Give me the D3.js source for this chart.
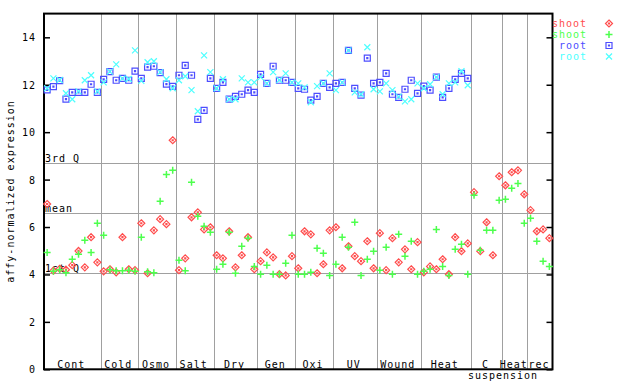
<!DOCTYPE html>
<html>
<head>
<meta charset="utf-8">
<script src="https://cdn.jsdelivr.net/npm/d3@7"></script>
<style>
  body { margin: 0; background: #fff; }
  text { font-family: "DejaVu Sans Mono", monospace; font-size: 10px; letter-spacing: 1px; }
</style>
</head>
<body>
<svg class="chart"></svg>
<script>
// categories and how many samples sit in each one
var categories = ["Cont", "Cold", "Osmo", "Salt", "Dry", "Gen", "Oxi", "UV", "Wound", "Heat", "C", "Heat", "rec"];
var counts = [9, 6, 6, 6, 7, 6, 6, 7, 7, 8, 5, 4, 4];

var shoot1 = [6.97, 4.16, 4.24, 4.2, 4.39, 4.99, 4.30, 5.57, 4.51,
  4.13, 4.22, 4.09, 5.57, 4.22, 4.18,
  6.16, 4.05, 5.86, 6.33, 6.12, 9.66,
  4.18, 4.68, 6.41, 6.62, 5.9, 5.99,
  4.81, 4.68, 5.82, 4.30, 4.81, 5.57, 4.22,
  4.56, 4.93, 4.72, 4.01, 3.96, 4.77,
  4.26, 5.82, 5.69, 4.05, 4.43, 5.86,
  5.99, 4.26, 5.19, 4.77, 4.56, 5.4, 4.26,
  5.74, 4.18, 5.53, 4.51, 5.06, 4.22, 5.36,
  4.09, 4.34, 4.22, 4.64, 4.01, 5.57, 4.98, 5.31,
  7.47, 4.98, 6.2, 4.81, 8.14,
  7.76, 8.31, 8.39, 7.38,
  6.71, 5.82, 5.9, 5.53];

var shoot2 = [4.93, 4.14, 4.2, 4.07, 4.64, 4.85, 5.44, 4.93, 6.16,
  5.65, 4.2, 4.16, 4.16, 4.18, 4.14,
  5.57, 4.11, 4.07, 7.09, 8.22, 8.39,
  4.6, 4.16, 7.89, 6.45, 6.03, 5.78,
  4.22, 4.43, 5.78, 4.05, 5.19, 5.53, 4.34,
  4.01, 4.39, 4.01, 4.01, 4.47, 5.65,
  4.01, 4.01, 4.09, 5.1, 4.89, 3.96,
  4.43, 5.57, 5.15, 6.2, 3.96, 4.64, 4.98,
  4.18, 5.15, 4.01, 5.69, 4.77, 5.4, 4.01,
  4.13, 4.22, 5.9, 4.34, 3.96, 5.06, 5.27, 4.01,
  7.34, 5.02, 5.86, 5.86, 7.13,
  7.17, 7.63, 7.84, 6.16,
  6.37, 5.4, 4.56, 4.34];

var root1 = [11.78, 11.92, 12.17, 11.39, 11.68, 11.68, 11.68, 12.02, 11.68,
  12.23, 12.55, 12.19, 12.27, 12.19, 12.57,
  12.27, 12.74, 12.78, 12.51, 12.03, 11.93,
  12.40, 12.82, 12.40, 10.54, 10.92, 12.27,
  11.85, 12.10, 11.39, 11.51, 11.60, 11.77, 11.68,
  12.44, 12.06, 12.78, 12.19, 12.19, 12.10,
  11.85, 11.81, 11.35, 11.51, 12.06, 11.89,
  12.06, 12.10, 13.45, 11.85, 11.56, 13.12, 12.06,
  12.10, 12.48, 11.60, 11.47, 11.81, 12.19, 11.64,
  11.94, 11.77, 12.32, 11.47, 11.85, 12.23, 12.48, 12.27];

var root2 = [11.85, 12.27, 12.2, 11.64, 11.39, 11.72, 12.19, 12.40, 11.72,
  12.10, 12.55, 12.86, 12.27, 12.24, 13.45,
  12.16, 12.95, 12.99, 12.53, 12.23, 11.85,
  12.19, 12.36, 11.77, 10.88, 13.24, 12.53,
  11.85, 12.23, 11.39, 11.39, 12.27, 12.10, 12.10,
  12.32, 12.06, 12.53, 12.2, 12.48, 12.10,
  12.06, 11.89, 11.26, 11.94, 12.06, 12.48,
  11.77, 12.10, 13.45, 11.68, 11.6, 13.58, 11.81,
  11.72, 12.06, 11.77, 11.5, 11.30, 11.39, 12.06,
  11.85, 12.02, 12.32, 11.60, 12.06, 12.10, 12.57, 11.98];

var seriesNames = ["shoot", "shoot", "root", "root"];
var seriesColors = ["#ff4d4d", "#4dff4d", "#4d4dff", "#4dffff"];
var seriesShapes = ["diamond", "plus", "square", "cross"];

var refLabels = ["3rd Q", "mean", "1st Q"];
var refValues = [8.68, 6.61, 4.08];

var yTicks = [0, 2, 4, 6, 8, 10, 12, 14];

var width = 640,
    height = 384;

var total = d3.sum(counts);

var x = d3.scaleLinear()
    .domain([0, total])
    .range([44, 552.5]);

var y = d3.scaleLinear()
    .domain([0, 15])
    .range([369.3, 13.6]);

var chart = d3.select(".chart")
    .attr("width", width)
    .attr("height", height);

chart.append("rect")
  .attr("width", width)
  .attr("height", height)
  .attr("fill", "#fff");

// category boundaries
var bounds = d3.cumsum(counts);
var starts = [0].concat(Array.from(bounds).slice(0, -1));

chart.append("g").selectAll("line")
    .data(Array.from(bounds).slice(0, -1))
  .enter().append("line")
    .attr("x1", function(d) { return Math.round(x(d)) + 0.5; })
    .attr("x2", function(d) { return Math.round(x(d)) + 0.5; })
    .attr("y1", y(15))
    .attr("y2", y(0))
    .attr("stroke", "#a0a0a0")
    .attr("stroke-width", 1);

// quartile / mean lines
chart.append("g").selectAll("line")
    .data(refValues)
  .enter().append("line")
    .attr("x1", x(0))
    .attr("x2", x(total))
    .attr("y1", function(d) { return Math.round(y(d)) + 0.5; })
    .attr("y2", function(d) { return Math.round(y(d)) + 0.5; })
    .attr("stroke", "#a0a0a0")
    .attr("stroke-width", 1);

chart.append("g").selectAll("text")
    .data(refValues)
  .enter().append("text")
    .attr("x", x(0) + 1)
    .attr("y", function(d) { return Math.round(y(d)) - 1; })
    .text(function(d, i) { return refLabels[i]; });

// ticks on both sides
var yAxisL = d3.axisLeft(y).tickValues(yTicks).tickSizeInner(-6).tickSizeOuter(0).tickPadding(8);
var yAxisR = d3.axisRight(y).tickValues(yTicks).tickSizeInner(-6).tickSizeOuter(0).tickFormat("");

var gl = chart.append("g")
  .attr("transform", "translate(" + x(0) + ",0)")
  .call(yAxisL);
var gr = chart.append("g")
  .attr("transform", "translate(" + x(total) + ",0)")
  .call(yAxisR);

[gl, gr].forEach(function(g) {
  g.select(".domain").remove();
  g.selectAll("line").attr("stroke", "#000").attr("stroke-width", 1.5);
});
gl.selectAll("text")
  .attr("font-family", "DejaVu Sans Mono")
  .attr("font-size", 10)
  .attr("fill", "#000")
  .attr("dy", "0.35em");

// frame
chart.append("rect")
  .attr("x", x(0))
  .attr("y", y(15))
  .attr("width", x(total) - x(0))
  .attr("height", y(0) - y(15))
  .attr("fill", "none")
  .attr("stroke", "#000")
  .attr("stroke-width", 2);

// category labels
chart.append("g").selectAll("text")
    .data(categories)
  .enter().append("text")
    .attr("x", function(d, i) { return x(starts[i] + counts[i] / 2) - 1; })
    .attr("y", 368)
    .attr("text-anchor", "middle")
    .text(function(d) { return d; });

chart.append("text")
  .attr("x", 503)
  .attr("y", 379)
  .attr("text-anchor", "middle")
  .text("suspension");

chart.append("text")
  .attr("transform", "translate(13.5," + ((y(0) + y(15)) / 2) + ") rotate(-90)")
  .attr("text-anchor", "middle")
  .text("affy-normalized expression");

function marker(shape) {
  if (shape == "diamond") return "M0,-3.5L3.5,0L0,3.5L-3.5,0Z M-0.5,-0.5h1v1h-1Z";
  if (shape == "plus") return "M-3.5,0H3.5M0,-3.5V3.5";
  if (shape == "square") return "M-3,-3H3V3H-3Z M-0.5,-0.5h1v1h-1Z";
  return "M-3,-3L3,3M-3,3L3,-3";
}

var allSeries = [shoot1, shoot2, root1, root2];

allSeries.forEach(function(values, s) {
  chart.append("g").selectAll("path")
      .data(values)
    .enter().append("path")
      .attr("transform", function(d, i) {
        return "translate(" + x(i + 0.5) + "," + y(d) + ")";
      })
      .attr("d", marker(seriesShapes[s]))
      .attr("fill", "none")
      .attr("stroke", seriesColors[s])
      .attr("stroke-width", seriesShapes[s] == "plus" ? 1.5 : 1.2);
});

// legend
var legend = chart.append("g").selectAll("g")
    .data(seriesNames)
  .enter().append("g")
    .attr("transform", function(d, i) { return "translate(0," + (23.5 + i * 11) + ")"; });

legend.append("text")
  .attr("x", 587)
  .attr("y", 3.5)
  .attr("text-anchor", "end")
  .attr("fill", function(d, i) { return seriesColors[i]; })
  .text(function(d) { return d; });

legend.append("path")
  .attr("transform", "translate(609,0)")
  .attr("d", function(d, i) { return marker(seriesShapes[i]); })
  .attr("fill", "none")
  .attr("stroke", function(d, i) { return seriesColors[i]; })
  .attr("stroke-width", function(d, i) { return seriesShapes[i] == "plus" ? 1.5 : 1.2; });
</script>
</body>
</html>
